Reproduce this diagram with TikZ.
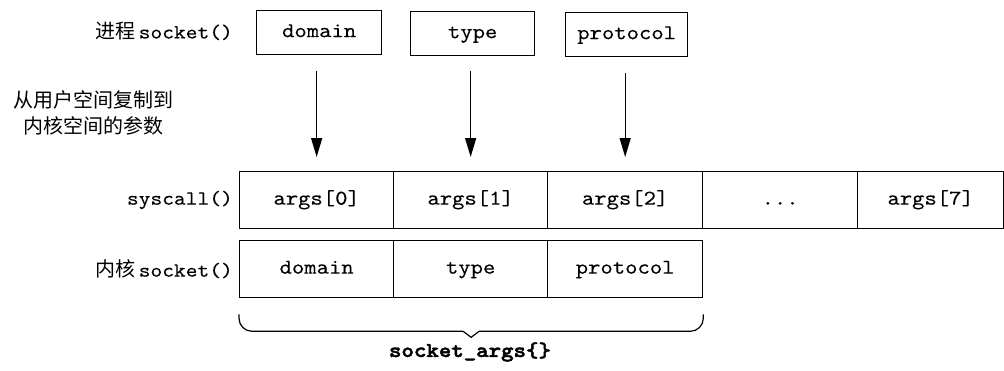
\documentclass[tikz,border=0pt]{standalone}
\usepackage{fontspec}
\newfontfamily\mono{lmmono10-regular.otf}[FakeStretch=1.12,FakeBold=0.15]
\newfontfamily\monob{lmmonolt10-bold.otf}[FakeStretch=1.13,FakeBold=2.2]
\newfontfamily\cjk{Noto Sans CJK SC}
\usetikzlibrary{arrows.meta,calc}
\begin{document}
\begin{tikzpicture}[x=1pt,y=-1pt,
  cell/.style={draw,line width=1.3pt,inner sep=0pt,anchor=north west,
    minimum height=57pt,text height=13pt,text depth=4pt,
    font=\mono\fontsize{21}{24}\selectfont},
  topbox/.style={draw,line width=1.3pt,inner sep=0pt,anchor=north west,
    minimum height=44pt,text height=13pt,text depth=4pt,
    font=\mono\fontsize{21}{24}\selectfont},
  lab/.style={anchor=east,inner sep=0pt,font=\fontsize{20}{24}\selectfont},
  arr/.style={line width=1.3pt,-{Triangle[length=19pt,width=11pt]}},
  brace/.style={line width=1.2pt,rounded corners=13pt}]
\useasboundingbox (0,0) rectangle (1004,370);
% top boxes
\node[topbox,minimum width=125pt] (dom) at (256,10) {domain};
\node[topbox,minimum width=124pt] (typ) at (410,11) {type};
\node[topbox,minimum width=122pt] (pro) at (565,12) {protocol};
% syscall row
\node[cell,minimum width=154pt] (a0) at (239,171) {args[0]};
\node[cell,minimum width=154pt] (a1) at (393,171) {args[1]};
\node[cell,minimum width=155pt] (a2) at (547,171) {args[2]};
\node[cell,minimum width=155pt] (a3) at (702,171) {...};
\node[cell,minimum width=146pt] (a7) at (857,171) {args[7]};
% kernel socket row
\node[cell,minimum width=154pt] (bd) at (239,240) {domain};
\node[cell,minimum width=154pt] (bt) at (393,240) {type};
\node[cell,minimum width=155pt] (bp) at (547,240) {protocol};
% labels
\node[lab] (l1) at (233,31) {{\cjk 进程}\,\mono socket()};
\node[lab] (l2) at (233,200) {\mono syscall()};
\node[lab] (l3) at (233,269) {{\cjk 内核}\,\mono socket()};
\node[align=center,inner sep=0pt,font=\cjk\fontsize{20}{26}\selectfont] (l4) at (93,113) {从用户空间复制到\\内核空间的参数};
% arrows
\draw[arr] ([yshift=-16pt]a0.north |- dom.south) -- ([yshift=14pt]a0.north);
\draw[arr] ([yshift=-15pt]a1.north |- typ.south) -- ([yshift=14pt]a1.north);
\draw[arr] ([yshift=-16pt]a2.north |- pro.south) -- ([yshift=14pt]a2.north);
% brace
\coordinate (bl) at ([yshift=-16pt]bd.south west);
\coordinate (br) at ([yshift=-16pt]bp.south east);
\coordinate (bm) at ($(bd.south west)!0.5!(bp.south east)+(0,39)$);
\draw[brace] (bl) -- ++(0,17) -- ($(bm)+(-8,-6)$);
\draw[line width=1.2pt,line join=miter] ($(bm)+(-8,-6)$) -- (bm) -- ($(bm)+(8,-6)$);
\draw[brace] ($(bm)+(8,-6)$) -- (br |- {$(bm)+(0,-6)$}) -- (br);
\node[inner sep=0pt,font=\monob\fontsize{21}{24}\selectfont] (sa) at (470,352) {socket\_args\{\}};
\end{tikzpicture}
\end{document}
